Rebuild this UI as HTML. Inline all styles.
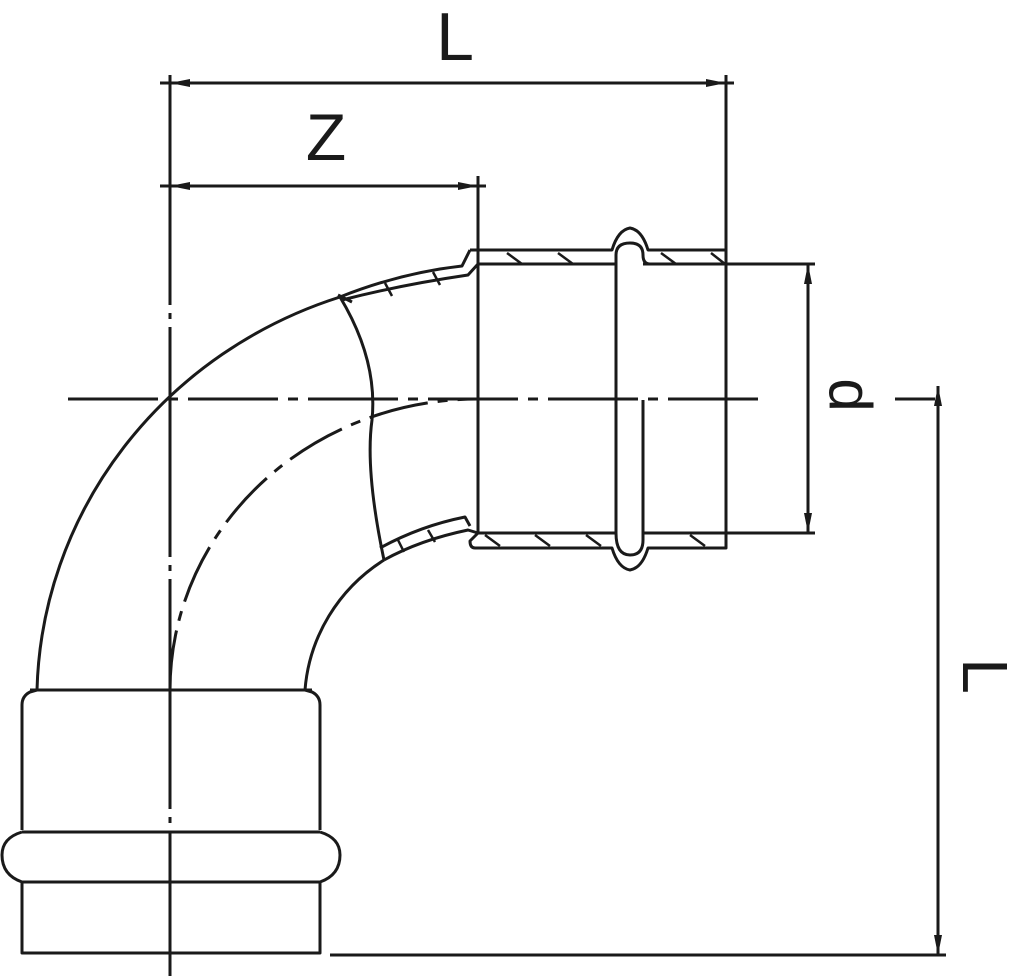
<!DOCTYPE html>
<html><head><style>html,body{margin:0;padding:0;background:#fff}svg{display:block}</style></head>
<body>
<svg width="1024" height="976" viewBox="0 0 1024 976" xmlns="http://www.w3.org/2000/svg" fill="none" stroke="#1a1a1a" stroke-width="3" stroke-linejoin="round">
<defs>
<marker id="a" viewBox="0 0 20 8" refX="20" refY="4" markerWidth="20" markerHeight="8" markerUnits="userSpaceOnUse" orient="auto-start-reverse"><path d="M0 0L20 4L0 8z" fill="#1a1a1a" stroke="none"/></marker>
</defs>
<line x1="170" y1="83" x2="726" y2="83" marker-start="url(#a)" marker-end="url(#a)"/>
<line x1="160" y1="83" x2="170" y2="83"/><line x1="726" y1="83" x2="734" y2="83"/>
<line x1="170" y1="186" x2="478" y2="186" marker-start="url(#a)" marker-end="url(#a)"/>
<line x1="160" y1="186" x2="170" y2="186"/><line x1="478" y1="186" x2="486" y2="186"/>
<line x1="726" y1="75" x2="726" y2="258"/>
<line x1="478" y1="176" x2="478" y2="250"/>
<line x1="170" y1="75" x2="170" y2="976" stroke-dasharray="230,8,6,8" />
<line x1="68" y1="399" x2="760" y2="399" stroke-dasharray="90,10,10,10"/>
<line x1="895" y1="399" x2="935" y2="399"/>
<text x="455" y="60" font-family="Liberation Sans, sans-serif" font-size="68" fill="#1a1a1a" stroke="none" text-anchor="middle">L</text>
<text x="326" y="160" font-family="Liberation Sans, sans-serif" font-size="66" fill="#1a1a1a" stroke="none" text-anchor="middle">Z</text>
<text transform="translate(830,395) rotate(90)" font-family="Liberation Sans, sans-serif" font-size="60" fill="#1a1a1a" stroke="none" text-anchor="middle" y="0">d</text>
<text transform="translate(963,676) rotate(90)" font-family="Liberation Sans, sans-serif" font-size="64" fill="#1a1a1a" stroke="none" text-anchor="middle" y="0">L</text>
<line x1="726" y1="264" x2="815" y2="264"/><line x1="726" y1="533" x2="815" y2="533"/>
<line x1="808" y1="264" x2="808" y2="533" marker-start="url(#a)" marker-end="url(#a)"/>
<line x1="938" y1="386" x2="938" y2="955" marker-start="url(#a)" marker-end="url(#a)"/>
<line x1="330" y1="955" x2="946" y2="955"/>
<path d="M470 250 L612 250 Q618 230 630 228 Q642 230 648 250 L726 250 L726 548 L648 548 Q642 568 630 570 Q618 568 612 548 L475 548 Q470 548 470 541 L478 533"/>
<path d="M478 264 L616 264 M643 264 L726 264 M478 533 L616 533 M643 533 L726 533"/>
<path d="M616 264 L616 533 Q616 555 630 555 Q643 555 643 540 L643 400"/>
<path d="M616 533 L616 255 Q616 243 630 243 Q643 243 643 255 Q643 264 650 264"/>
<line x1="478" y1="250" x2="478" y2="533"/>
<g stroke-width="2.5">
<path d="M507 253 L522 264 M558 253 L573 264 M661 253 L676 264 M711 253 L725 264"/>
<path d="M485 535 L500 546 M535 535 L550 546 M586 535 L601 546 M690 535 L705 546"/>
</g>
<path d="M37 690 A441 425 0 0 1 340 297"/>
<path d="M340 297 Q400 273 462 266 L470 250 M342 300 Q400 285 468 275 L478 264"/>
<path d="M338 295 L352 302" />
<path d="M305 690 A173 170 0 0 1 384 560"/>
<path d="M384 560 Q420 540 468 530 L478 533 M380 548 Q420 526 465 517 L470 526"/>
<path d="M340 297 Q378 360 372 420 Q365 470 384 560"/>
<g stroke-width="2.5"><path d="M385 283 L392 296 M433 272 L440 285 M398 540 L404 552 M428 530 L435 542"/></g>
<path d="M170 690 A308 291 0 0 1 478 399" stroke-dasharray="60,10,10,10"/>
<path d="M37 690 Q37 690 30 692 Q22 696 22 705 L22 830 M305 690 Q305 690 312 692 Q320 696 320 705 L320 830"/>
<line x1="30" y1="690" x2="312" y2="690"/>
<path d="M22 832 Q2 838 2 855 Q2 875 22 882 M320 832 Q340 838 340 855 Q340 875 320 882"/>
<line x1="22" y1="832" x2="320" y2="832"/><line x1="22" y1="882" x2="320" y2="882"/>
<path d="M22 882 L22 953 L320 953 L320 882"/>
</svg>
</body></html>
